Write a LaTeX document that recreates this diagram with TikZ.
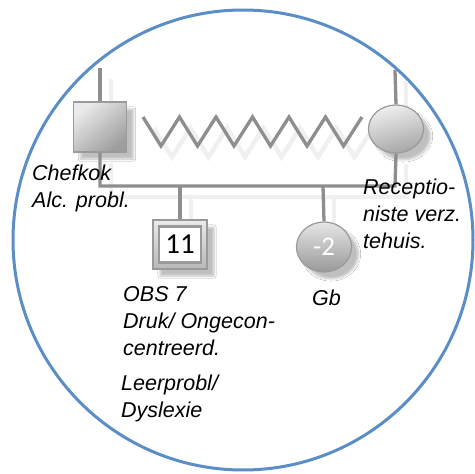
\documentclass[tikz,border=0pt]{standalone}
\usepackage{fontspec}
\setmainfont{Liberation Sans}
\newfontfamily\numfont{Carlito}
\usetikzlibrary{shadows.blur,shapes.geometric}

\definecolor{ringblue}{HTML}{5B8EC6}
\definecolor{linegray}{HTML}{8E8E8E}
\definecolor{edgegray}{HTML}{9A9A9A}

\tikzset{
  link/.style={draw=linegray, line width=3.3pt},
  linkshade/.style={draw=black!6, line width=4.5pt, xshift=11pt, yshift=-11pt},
  person/.style={draw=edgegray, line width=1.2pt, inner sep=0pt,
    blur shadow={shadow xshift=7pt, shadow yshift=-7pt, shadow blur steps=10, shadow opacity=25}},
  malebox/.style={person, rectangle, minimum width=53pt, minimum height=50pt,
    top color=black!8, bottom color=black!38, shading angle=40},
  femaledisc/.style={person, ellipse, minimum width=55pt, minimum height=48pt,
    top color=black!6, bottom color=black!35, shading angle=15},
  label/.style={font=\fontsize{21.5pt}{27pt}\selectfont\itshape, align=left,
    inner sep=0pt, anchor=base west},
}

\begin{document}
\begin{tikzpicture}[x=1pt, y=-1pt]
\useasboundingbox (0,0) rectangle (475,474);
\fill[white] (0,0) rectangle (475,474);

% outer ring
\draw[ringblue, line width=3pt] (243,240) circle[radius=230pt];

% free ends of the lines
\coordinate (dadtop) at (100,68);
\coordinate (momtop) at (395,70);
\coordinate (barL) at (100,186);
\coordinate (barR) at (395,186);
\coordinate (sonjoin) at (180,186);
\coordinate (girljoin) at (323,186);

% faint shadows of the lines
\draw[linkshade] (100,68) -- (100,102);
\draw[linkshade] (395,70) -- (395,105);
\draw[linkshade] (100,152) -- (100,186) -- (395,186) -- (395,153);
\draw[linkshade] (180,186) -- (180,220);
\draw[linkshade] (323,186) -- (323,222);
\draw[linkshade, line join=miter]
  (143,117) \foreach \i in {0,...,5} { -- ({161+36.5*\i},146) -- ({179.5+36.5*\i},117) };

% parents
\node[malebox] (dad) at (100,127) {};
\node[femaledisc] (mom) at (396,129) {};

% children
\node[malebox, minimum width=54pt, minimum height=49pt, top color=black!8, bottom color=black!28] (son) at (180,244.5) {};
\node[draw=edgegray, line width=2.6pt, fill=white, minimum width=42pt, minimum height=36pt, inner sep=0pt,
  font=\numfont\fontsize{29pt}{29pt}\selectfont] (sonage) at (180,244.5) {11};
\node[femaledisc, top color=black!10, bottom color=black!40, minimum height=50pt,
  font=\numfont\fontsize{27pt}{27pt}\selectfont, text=white] (girl) at (324,247) {-2};

% relationship lines
\draw[link] (dadtop) -- (dad.north);
\draw[link] (momtop) -- (mom.north);
\draw[link] (dad.south) -- (barL) -- (barR) -- (mom.south);
\draw[link] (sonjoin) -- (son.north);
\draw[link] (girljoin) -- (girl.north);

% troubled relationship between the parents
\coordinate (zl) at (143,117);
\coordinate (zr) at (362,117);
\draw[link, line join=miter]
  (zl) \foreach \i in {0,...,5} { -- ({161+36.5*\i},146) -- ({179.5+36.5*\i},117) };

% labels (anchored at the baseline of their last line)
\node[label] (dadlbl) at (32,207) {Chefkok\\Alc. probl.};
\node[label] (momlbl) at (363,248) {Receptio-\\niste verz.\\tehuis.};
\node[label] (sonlbl) at (123,355) {OBS 7\\Druk/ Ongecon-\\centreerd.};
\node[label] (sonlbl2) at (121,417) {Leerprobl/\\Dyslexie};
\node[label] (girllbl) at (312,305) {Gb};
\end{tikzpicture}
\end{document}
